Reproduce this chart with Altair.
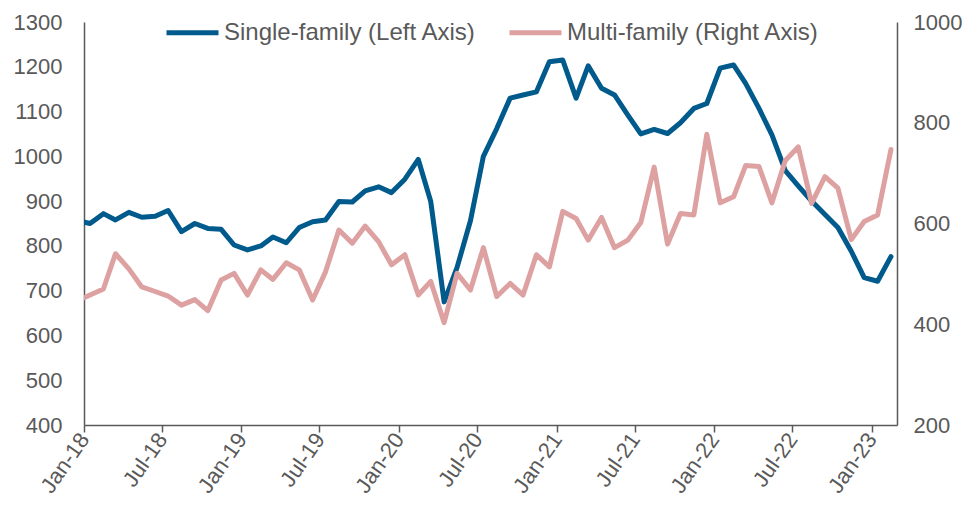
import altair as alt
import pandas as pd

# Monthly observations (mid-month), Dec-2017 .. Feb-2023 (Dec-2017 is clipped by the axis)
months = []
for yr in range(2017, 2024):
    for mo in range(1, 13):
        if (yr, mo) >= (2017, 12) and (yr, mo) <= (2023, 2):
            months.append(f"{yr}-{mo:02d}-15")

single_family = [857,
                 850, 872, 858, 875, 864, 866, 879, 832, 850, 839,
                 837, 802, 791, 800, 820, 807, 841, 854, 858, 899,
                 898, 923, 932, 919, 949, 993, 899, 675, 752, 856,
                 1000, 1062, 1130, 1137, 1144, 1211, 1215, 1130, 1202, 1152,
                 1137, 1092, 1050, 1060, 1051, 1075, 1107, 1118, 1197, 1204,
                 1163, 1107, 1048, 968, 934, 900, 870, 841, 788, 729,
                 721, 776]

multi_family = [446,
                458, 470, 540, 510, 474, 465, 456, 438, 449, 427,
                488, 501, 458, 508, 489, 522, 508, 448, 504, 587,
                561, 595, 564, 518, 538, 458, 485, 403, 501, 468,
                552, 455, 481, 458, 538, 514, 624, 610, 567, 612,
                552, 567, 602, 712, 559, 620, 617, 777, 641, 653,
                715, 713, 641, 725, 752, 640, 693, 670, 568, 604,
                617, 747]

series_names = ["Single-family (Left Axis)", "Multi-family (Right Axis)"]
series_colors = ["#005A8C", "#DDA1A1"]
left_ticks = [400, 500, 600, 700, 800, 900, 1000, 1100, 1200, 1300]
right_ticks = [200, 400, 600, 800, 1000]
x_tick_months = [(2018, 1), (2018, 7), (2019, 1), (2019, 7), (2020, 1), (2020, 7),
                 (2021, 1), (2021, 7), (2022, 1), (2022, 7), (2023, 1)]

df = pd.DataFrame({
    "date": months + months,
    "value": single_family + multi_family,
    "series": [series_names[0]] * len(months) + [series_names[1]] * len(months),
})

FONT = "Liberation Sans"
GREY = "#595959"

color = alt.Color(
    "series:N",
    scale=alt.Scale(domain=series_names, range=series_colors),
    legend=alt.Legend(
        title=None, orient="none", legendX=80, legendY=-18, direction="horizontal",
        symbolType="stroke", symbolSize=2704, symbolStrokeWidth=5,
        labelFontSize=24, labelFont=FONT, labelColor=GREY,
        columnPadding=22, labelOffset=3, labelLimit=400,
    ),
)

x = alt.X(
    "date:T",
    scale=alt.Scale(type="utc", domain=[alt.DateTime(year=2018, month=1, date=1, utc=True),
                                        alt.DateTime(year=2023, month=3, date=1, utc=True)]),
    axis=alt.Axis(
        title=None,
        values=[alt.DateTime(year=y, month=m, date=1, utc=True) for y, m in x_tick_months],
        labelExpr="utcFormat(datum.value, '%b-%y')", labelAngle=305,
        labelAlign="right", labelBaseline="middle", labelPadding=3,
        tickSize=7, tickColor=GREY, tickWidth=1.5,
        domainColor=GREY, domainWidth=1.5,
        labelFontSize=22, labelFont=FONT, labelColor=GREY, grid=False,
    ),
)

base = alt.Chart(df)

blue = base.transform_filter(alt.datum.series == series_names[0]).mark_line(
    strokeWidth=5, clip=True, strokeJoin="round", strokeCap="round"
).encode(
    x=x,
    y=alt.Y("value:Q",
            scale=alt.Scale(domain=[400, 1300], nice=False, zero=False),
            axis=alt.Axis(title=None, orient="left", values=left_ticks, ticks=False, format="d",
                          domainColor=GREY, domainWidth=1.5, labelPadding=22,
                          labelFontSize=22, labelFont=FONT, labelColor=GREY, grid=False)),
    color=color,
)

pink = base.transform_filter(alt.datum.series == series_names[1]).mark_line(
    strokeWidth=5, clip=True, strokeJoin="round", strokeCap="round"
).encode(
    x=x,
    y=alt.Y("value:Q",
            scale=alt.Scale(domain=[200, 1000], nice=False, zero=False),
            axis=alt.Axis(title=None, orient="right", values=right_ticks, ticks=False, format="d",
                          domainColor=GREY, domainWidth=1.5, labelPadding=16,
                          labelFontSize=22, labelFont=FONT, labelColor=GREY, grid=False)),
    color=color,
)

chart = alt.layer(blue, pink).resolve_scale(y="independent").properties(
    width=813, height=403,
    autosize=alt.AutoSizeParams(type="none"),
    padding={"left": 76, "top": 14, "right": 66, "bottom": 72},
).configure_view(stroke=None)

chart.save("out.html", embed_options={"renderer": "svg", "actions": False})
